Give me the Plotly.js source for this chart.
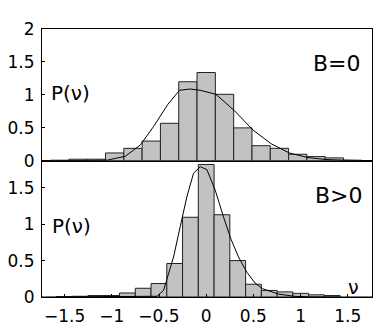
<!DOCTYPE html>
<html>
<head>
<meta charset="utf-8">
<script src="https://cdn.plot.ly/plotly-3.0.1.min.js"></script>
<style>
  html, body { margin: 0; padding: 0; background: #fff; }
</style>
</head>
<body>
<div id="chart" style="width:382px;height:327px;"></div>
<script>
  // B=0 histogram (top panel)
  var bins_b0 = [-1.552, -1.358, -1.164, -0.970, -0.776, -0.582, -0.388, -0.194, 0,
                 0.194, 0.388, 0.582, 0.776, 0.970, 1.164, 1.358, 1.552];
  var hist_b0 = [0.01, 0.025, 0.025, 0.12, 0.19, 0.30, 0.57, 1.20, 1.34,
                 1.01, 0.50, 0.23, 0.19, 0.10, 0.065, 0.045, 0.01];
  var curve_b0_x = [-1.74, -1.25, -1.05, -0.857, -0.698, -0.558, -0.405, -0.283, -0.17,
                    -0.063, 0.103, 0.30, 0.494, 0.688, 0.88, 1.076, 1.27, 1.46, 1.757];
  var curve_b0_y = [0, 0, 0.01, 0.07, 0.24, 0.52, 0.86, 1.07, 1.09,
                    1.07, 1.01, 0.76, 0.47, 0.26, 0.12, 0.05, 0.02, 0.01, 0];

  // B>0 histogram (bottom panel)
  var bins_b1 = [-1.503, -1.336, -1.169, -1.002, -0.835, -0.668, -0.501, -0.334, -0.167, 0,
                 0.167, 0.334, 0.501, 0.668, 0.835, 1.002, 1.169, 1.336];
  var hist_b1 = [0.005, 0.01, 0.02, 0.02, 0.055, 0.12, 0.185, 0.46, 1.095, 1.82,
                 1.13, 0.50, 0.175, 0.09, 0.07, 0.05, 0.03, 0.02];
  var curve_b1_x = [-1.74, -0.522, -0.452, -0.399, -0.346, -0.275, -0.204, -0.134, -0.063, 0.007,
                    0.095, 0.183, 0.261, 0.342, 0.431, 0.519, 0.596, 0.765, 0.934, 1.10, 1.757];
  var curve_b1_y = [0, 0.01, 0.09, 0.32, 0.55, 0.97, 1.38, 1.70, 1.79, 1.75,
                    1.47, 1.10, 0.80, 0.55, 0.34, 0.19, 0.115, 0.04, 0.01, 0, 0];

  var xticks = [-1.5, -1, -0.5, 0, 0.5, 1, 1.5];

  var barFill = '#c2c2c2';
  var font = 'DejaVu Sans, Arial, sans-serif';

  var data = [
    {
      x: bins_b0, y: hist_b0, type: 'bar', width: 0.194,
      xaxis: 'x2', yaxis: 'y',
      marker: { color: barFill, line: { color: '#222', width: 1 } },
      hoverinfo: 'skip'
    },
    {
      x: curve_b0_x, y: curve_b0_y, type: 'scatter', mode: 'lines',
      xaxis: 'x2', yaxis: 'y',
      line: { color: '#000', width: 1 }
    },
    {
      x: bins_b1, y: hist_b1, type: 'bar', width: 0.167,
      xaxis: 'x', yaxis: 'y2',
      marker: { color: barFill, line: { color: '#222', width: 1 } },
      hoverinfo: 'skip'
    },
    {
      x: curve_b1_x, y: curve_b1_y, type: 'scatter', mode: 'lines',
      xaxis: 'x', yaxis: 'y2',
      line: { color: '#000', width: 1 }
    }
  ];

  var axisCommon = {
    showline: true, mirror: true, linecolor: '#000', linewidth: 1,
    showgrid: false, zeroline: false,
    ticks: 'inside', ticklen: 3, tickcolor: '#000',
    tickfont: { family: font, size: 17, color: '#000' }
  };

  var layout = {
    width: 382, height: 327,
    margin: { l: 42, r: 10, t: 29, b: 30 },
    paper_bgcolor: '#fff', plot_bgcolor: '#fff',
    showlegend: false,
    bargap: 0,
    font: { family: font, color: '#000' },
    xaxis: Object.assign({}, axisCommon, {
      anchor: 'y2', range: [-1.74, 1.757],
      tickvals: xticks, ticklabelstandoff: 4
    }),
    xaxis2: Object.assign({}, axisCommon, {
      anchor: 'y', matches: 'x', range: [-1.74, 1.757],
      showticklabels: false, ticks: ''
    }),
    yaxis: Object.assign({}, axisCommon, {
      domain: [0.508, 1], anchor: 'x2', range: [0, 2],
      tickvals: [0, 0.5, 1, 1.5, 2], ticklabelstandoff: 3
    }),
    yaxis2: Object.assign({}, axisCommon, {
      domain: [0, 0.508], anchor: 'x', range: [0, 1.87],
      tickvals: [0, 0.5, 1, 1.5], ticklabelstandoff: 3
    }),
    annotations: [
      { text: 'B=0', xref: 'x2', yref: 'y', x: 1.66, y: 1.476,
        xanchor: 'right', yanchor: 'middle', showarrow: false,
        font: { family: font, size: 22 } },
      { text: 'P(ν)', xref: 'x2', yref: 'y', x: -1.67, y: 1.028,
        xanchor: 'left', yanchor: 'middle', showarrow: false,
        font: { family: font, size: 20 } },
      { text: 'B>0', xref: 'x', yref: 'y2', x: 1.68, y: 1.40,
        xanchor: 'right', yanchor: 'middle', showarrow: false,
        font: { family: font, size: 22 } },
      { text: 'P(ν)', xref: 'x', yref: 'y2', x: -1.66, y: 0.975,
        xanchor: 'left', yanchor: 'middle', showarrow: false,
        font: { family: font, size: 20 } },
      { text: 'ν', xref: 'x', yref: 'y2', x: 1.56, y: 0.134,
        xanchor: 'center', yanchor: 'middle', showarrow: false,
        font: { family: font, size: 19 } }
    ]
  };

  Plotly.newPlot('chart', data, layout, { staticPlot: true, displayModeBar: false });
</script>
</body>
</html>
